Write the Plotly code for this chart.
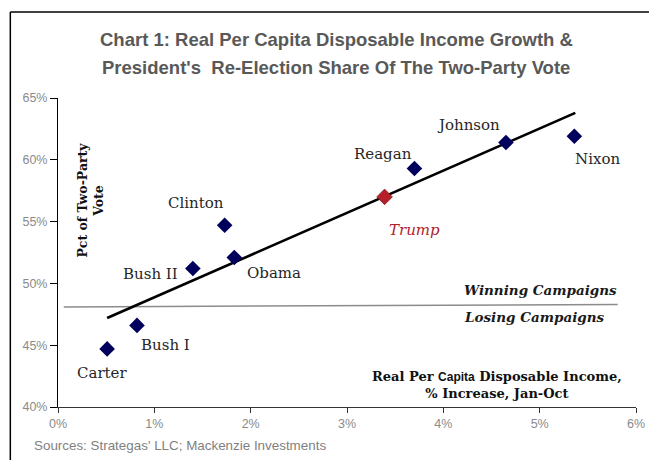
import plotly.graph_objects as go

# ---- data ----
presidents = ["Carter", "Bush I", "Bush II", "Clinton", "Obama", "Reagan", "Johnson", "Nixon"]
income_growth = [0.51, 0.82, 1.40, 1.73, 1.83, 3.70, 4.65, 5.36]
vote_share = [44.7, 46.6, 51.2, 54.7, 52.1, 59.3, 61.4, 61.9]

trump_label = "Trump"
trump_growth = [3.39]
trump_vote = [57.0]

trend_x = [0.51, 5.37]
trend_y = [47.2, 63.8]

threshold_x = [0.06, 5.81]
threshold_y = [48.1, 48.3]

x_ticks = [0, 1, 2, 3, 4, 5, 6]
x_tick_labels = ["0%", "1%", "2%", "3%", "4%", "5%", "6%"]
y_ticks = [40, 45, 50, 55, 60, 65]
y_tick_labels = ["40%", "45%", "50%", "55%", "60%", "65%"]

# ---- styling ----
NAVY = "#00005c"
RED = "#b3202a"
SERIF = "DejaVu Serif, Georgia, serif"
SANS = "Liberation Sans, Arial, sans-serif"

label_shift = {  # pixel offsets of labels from points (dx right, dy down)
    "Carter": (-5, 24), "Bush I": (29, 20), "Bush II": (-42, 5), "Clinton": (-29, -22),
    "Obama": (40, 16), "Reagan": (-31, -14), "Johnson": (-37, -18), "Nixon": (23, 23),
}

fig = go.Figure()

fig.add_trace(go.Scatter(x=threshold_x, y=threshold_y, mode="lines",
                         line=dict(color="#8c8c8c", width=1.5), hoverinfo="skip"))
fig.add_trace(go.Scatter(x=trend_x, y=trend_y, mode="lines",
                         line=dict(color="black", width=2.6), hoverinfo="skip"))
fig.add_trace(go.Scatter(x=income_growth, y=vote_share, mode="markers",
                         marker=dict(symbol="diamond", size=12, color=NAVY,
                                     line=dict(width=0))))
fig.add_trace(go.Scatter(x=trump_growth, y=trump_vote, mode="markers",
                         marker=dict(symbol="diamond", size=12, color=RED,
                                     line=dict(width=0.8, color="#8a1a20"))))

annotations = []
for name, xv, yv in zip(presidents, income_growth, vote_share):
    dx, dy = label_shift[name]
    annotations.append(dict(x=xv, y=yv, xref="x", yref="y", text=name, showarrow=False,
                            xshift=dx, yshift=-dy,
                            font=dict(family=SERIF, size=15, color="#262626")))
annotations.append(dict(x=trump_growth[0], y=trump_vote[0], xref="x", yref="y",
                        text="<i>" + trump_label + "</i>", showarrow=False,
                        xshift=30, yshift=-33,
                        font=dict(family=SERIF, size=15, color=RED)))

annotations += [
    dict(x=5.01, y=49.5, xref="x", yref="y", text="<b><i>Winning Campaigns</i></b>",
         showarrow=False, font=dict(family=SERIF, size=13.5, color="#1a1a1a")),
    dict(x=4.95, y=47.3, xref="x", yref="y", text="<b><i>Losing Campaigns</i></b>",
         showarrow=False, font=dict(family=SERIF, size=13.5, color="#1a1a1a")),
    dict(x=4.56, y=41.77, xref="x", yref="y",
         text="<b>Real Per <span style='font-family:Liberation Sans, Arial, sans-serif;font-size:12px'>Capita</span> Disposable Income,<br>% Increase, Jan-Oct</b>",
         showarrow=False, font=dict(family=SERIF, size=13, color="#111111")),
    dict(x=0.34, y=56.76, xref="x", yref="y", text="<b>Pct of Two-Party<br>Vote</b>",
         textangle=-90, showarrow=False, font=dict(family=SERIF, size=12.5, color="#111111")),
    dict(x=0.481, y=1.188, xref="paper", yref="paper", xanchor="center", yanchor="middle",
         text="<b>Chart 1: Real Per Capita Disposable Income Growth &</b>",
         showarrow=False, font=dict(family=SANS, size=18.5, color="#595959")),
    dict(x=0.481, y=1.100, xref="paper", yref="paper", xanchor="center", yanchor="middle",
         text="<b>President's  Re-Election Share Of The Two-Party Vote</b>",
         showarrow=False, font=dict(family=SANS, size=18.5, color="#595959")),
    dict(x=-0.0447, y=-0.126, xref="paper", yref="paper", xanchor="left", yanchor="middle",
         text="Sources: Strategas' LLC; Mackenzie Investments",
         showarrow=False, font=dict(family=SANS, size=13.4, color="#7f7f7f")),
]

shapes = [
    dict(type="line", xref="paper", yref="paper", x0=-0.0825, x1=1.03, y0=1.278, y1=1.278,
         line=dict(color="black", width=1.5)),
    dict(type="line", xref="paper", yref="paper", x0=-0.0825, x1=-0.0825, y0=1.278, y1=-0.2,
         line=dict(color="black", width=1.5)),
]

# page body has an 8px margin: figure sized/offset so the window shows the chart
fig.update_layout(
    width=649, height=452,
    margin=dict(l=50, r=17, t=90, b=53),
    paper_bgcolor="white", plot_bgcolor="white",
    showlegend=False,
    annotations=annotations, shapes=shapes,
    xaxis=dict(range=[0, 6], tickvals=x_ticks, ticktext=x_tick_labels,
               showgrid=False, zeroline=False, showline=True, linecolor="#333333",
               linewidth=1, ticks="outside", ticklen=5, tickcolor="#333333",
               tickfont=dict(family=SANS, size=12.5, color="#8a8a8a")),
    yaxis=dict(range=[40, 65], tickvals=y_ticks, ticktext=y_tick_labels,
               showgrid=False, zeroline=False, showline=True, linecolor="black",
               linewidth=1, ticks="outside", ticklen=7, tickcolor="black",
               tickfont=dict(family=SANS, size=12.5, color="#8a8a8a")),
)

fig.write_html("out.html")
